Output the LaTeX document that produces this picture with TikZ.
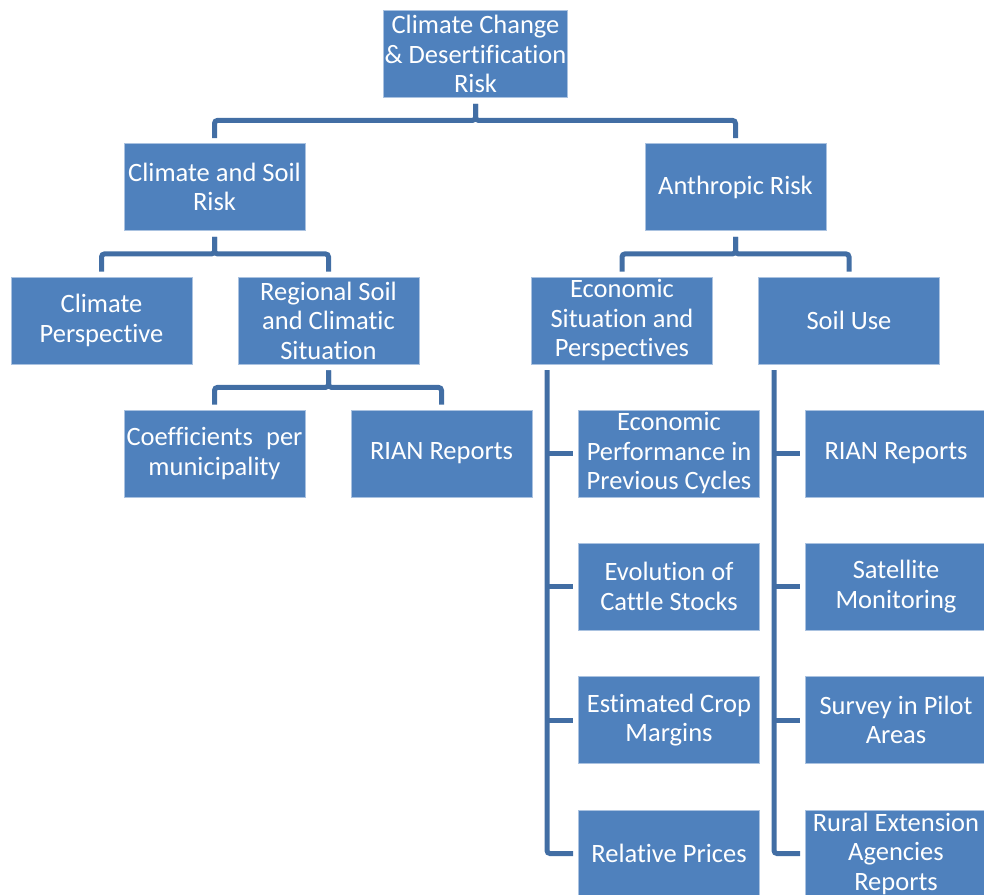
\documentclass[tikz,border=0pt]{standalone}
\usepackage{fontspec}
\setmainfont[Ligatures=NoCommon]{Carlito}
\definecolor{boxblue}{RGB}{79,129,189}
\definecolor{linkblue}{RGB}{66,110,164}
\definecolor{edgeblue}{RGB}{170,194,224}
\tikzset{
  box/.style={rectangle, fill=boxblue, draw=edgeblue, line width=0.8pt,
    minimum width=181pt, minimum height=87pt, inner sep=1pt,
    text=white, align=center, font=\fontsize{26.5}{29.5}\selectfont},
  conn/.style={draw=linkblue, line width=5pt, rounded corners=3pt,
    shorten <=6pt, shorten >=5pt},
  stub/.style={draw=linkblue, line width=5pt, rounded corners=3pt, shorten >=5pt}
}
\begin{document}
\begin{tikzpicture}[x=1pt,y=-1pt]
\useasboundingbox (0,0) rectangle (984,894);
\clip (0,0) rectangle (984,894);
% level 0
\node[box] (top) at (475.5,54) {Climate Change\\\& Desertification\\Risk};
% level 1
\node[box] (csr) at (214.5,187) {Climate and Soil\\Risk};
\node[box] (anth) at (735.5,187) {Anthropic Risk};
% level 2
\node[box] (cper) at (101.5,320.5) {Climate\\Perspective};
\node[box] (reg) at (328.5,320.5) {Regional Soil\\and Climatic\\Situation};
\node[box] (econ) at (622,320.5) {Economic\\Situation and\\Perspectives};
\node[box] (suse) at (849,320.5) {Soil Use};
% level 3 left
\node[box] (coef) at (214.5,453.5) {\makebox[176pt][s]{Coefficients\hfill per}\\municipality};
\node[box] (rianl) at (441.5,453.5) {RIAN Reports};
% economic children
\node[box] (perf) at (669,453.5) {Economic\\Performance in\\Previous Cycles};
\node[box] (cattle) at (669,586.5) {Evolution of\\Cattle Stocks};
\node[box] (crop) at (669,720) {Estimated Crop\\Margins};
\node[box] (relp) at (669,853.5) {Relative Prices};
% soil use children
\node[box] (rianr) at (896,453.5) {RIAN Reports};
\node[box] (sat) at (896,586.5) {Satellite\\Monitoring};
\node[box] (surv) at (896,720) {Survey in Pilot\\Areas};
\node[box] (rural) at (896,853.5) {Rural Extension\\Agencies\\Reports};
% connectors
\draw[conn] (top.south) -- ++(0,22.5) -| (csr.north);
\draw[conn] (top.south) -- ++(0,22.5) -| (anth.north);
\draw[conn] (csr.south) -- ++(0,23) -| (cper.north);
\draw[conn] (csr.south) -- ++(0,23) -| (reg.north);
\draw[conn] (anth.south) -- ++(0,23) -| (econ.north);
\draw[conn] (anth.south) -- ++(0,23) -| (suse.north);
\draw[conn] (reg.south) -- ++(0,23) -| (coef.north);
\draw[conn] (reg.south) -- ++(0,23) -| (rianl.north);
\coordinate (ebar) at (547,370);
\coordinate (sbar) at (774,370);
\draw[stub] (ebar) |- (relp.west);
\draw[stub] (ebar |- perf.west) -- (perf.west);
\draw[stub] (ebar |- cattle.west) -- (cattle.west);
\draw[stub] (ebar |- crop.west) -- (crop.west);
\draw[stub] (sbar) |- (rural.west);
\draw[stub] (sbar |- rianr.west) -- (rianr.west);
\draw[stub] (sbar |- sat.west) -- (sat.west);
\draw[stub] (sbar |- surv.west) -- (surv.west);
\end{tikzpicture}
\end{document}
